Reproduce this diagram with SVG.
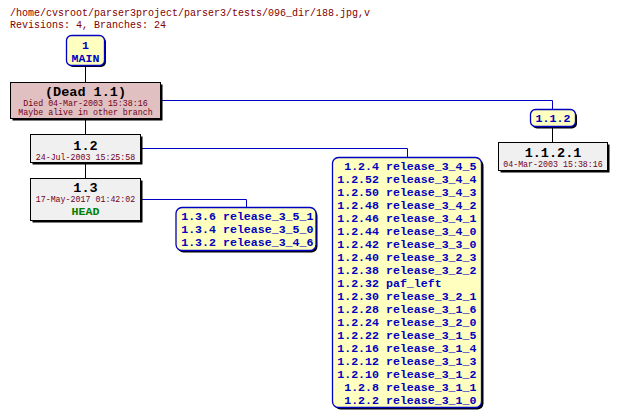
<svg xmlns="http://www.w3.org/2000/svg" width="617" height="419" viewBox="0 0 617 419">
<style>
.hdr{font-family:"Liberation Mono",monospace;font-size:10px;fill:#800000}
.rev{font-family:"Liberation Mono",monospace;font-weight:bold;font-size:13.5px;fill:#000;text-anchor:middle}
.date{font-family:"Liberation Mono",monospace;font-size:8.3px;fill:#700020;text-anchor:middle}
.tag{font-family:"Liberation Mono",monospace;font-weight:bold;font-size:11.6px;fill:#0000c0}
.mid{text-anchor:middle}
.end{text-anchor:end}
.box{fill:#f0f0f0;stroke:#000;stroke-width:1}
.dead{fill:#e0c0c0;stroke:#000;stroke-width:1}
.tbox{fill:#ffffc0;stroke:#0000c0;stroke-width:1.3}
.sh{fill:#000}
.bl{stroke:#0000c0;stroke-width:1;fill:none}
.bk{stroke:#000;stroke-width:1;fill:none}
</style>
<text class="hdr" x="10" y="16">/home/cvsroot/parser3project/parser3/tests/096_dir/188.jpg,v</text>
<text class="hdr" x="10" y="28">Revisions: 4, Branches: 24</text>
<g id="connectors">
<path class="bk" d="M85.5,65 V82.5"/>
<path class="bk" d="M85.5,119 V134.5"/>
<path class="bk" d="M85.5,163 V178.5"/>
<path class="bl" d="M161,100.5 H552.5 V109.5"/>
<path class="bk" d="M552.5,127 V142.5"/>
<path class="bl" d="M141,148.5 H407.5 V157.5"/>
<path class="bl" d="M141,199.5 H246.5 V207.5"/>
</g>
<g id="n_main">
<rect class="sh" x="68" y="37" width="38" height="30" rx="5"/>
<rect class="tbox" x="66.5" y="35.5" width="38" height="30" rx="5"/>
<text class="tag mid" x="85.5" y="49">1</text>
<text class="tag mid" x="85.5" y="62">MAIN</text>
</g>
<g id="n_1_1">
<rect class="sh" x="12.5" y="84.5" width="150" height="36"/>
<rect class="dead" x="10.5" y="82.5" width="150" height="36"/>
<text class="rev" x="85.5" y="96">(Dead 1.1)</text>
<text class="date" x="85.5" y="106">Died 04-Mar-2003 15:38:16</text>
<text class="date" x="85.5" y="114.5">Maybe alive in other branch</text>
</g>
<g id="n_1_2">
<rect class="sh" x="32.5" y="136.5" width="110" height="28"/>
<rect class="box" x="30.5" y="134.5" width="110" height="28"/>
<text class="rev" x="85.5" y="149.5">1.2</text>
<text class="date" x="85.5" y="159.5">24-Jul-2003 15:25:58</text>
</g>
<g id="n_1_3">
<rect class="sh" x="32.5" y="180.5" width="110" height="42"/>
<rect class="box" x="30.5" y="178.5" width="110" height="42"/>
<text class="rev" x="85.5" y="192">1.3</text>
<text class="date" x="85.5" y="202">17-May-2017 01:42:02</text>
<text class="tag mid" x="85.5" y="215" style="fill:#008000">HEAD</text>
</g>
<g id="n_tags_1_3">
<rect class="sh" x="177.5" y="209.5" width="140" height="43" rx="6"/>
<rect class="tbox" x="176" y="207.5" width="140" height="43" rx="6"/>
<text class="tag end" x="216" y="220">1.3.6</text><text class="tag" x="223" y="220">release_3_5_1</text>
<text class="tag end" x="216" y="233">1.3.4</text><text class="tag" x="223" y="233">release_3_5_0</text>
<text class="tag end" x="216" y="246">1.3.2</text><text class="tag" x="223" y="246">release_3_4_6</text>
</g>
<g id="n_tags_1_2">
<rect class="sh" x="334.5" y="159.5" width="149" height="250" rx="6"/>
<rect class="tbox" x="332.5" y="157.5" width="149" height="250" rx="6"/>
<text class="tag end" x="379" y="170">1.2.4</text><text class="tag" x="386" y="170">release_3_4_5</text>
<text class="tag end" x="379" y="183">1.2.52</text><text class="tag" x="386" y="183">release_3_4_4</text>
<text class="tag end" x="379" y="196">1.2.50</text><text class="tag" x="386" y="196">release_3_4_3</text>
<text class="tag end" x="379" y="209">1.2.48</text><text class="tag" x="386" y="209">release_3_4_2</text>
<text class="tag end" x="379" y="222">1.2.46</text><text class="tag" x="386" y="222">release_3_4_1</text>
<text class="tag end" x="379" y="235">1.2.44</text><text class="tag" x="386" y="235">release_3_4_0</text>
<text class="tag end" x="379" y="248">1.2.42</text><text class="tag" x="386" y="248">release_3_3_0</text>
<text class="tag end" x="379" y="261">1.2.40</text><text class="tag" x="386" y="261">release_3_2_3</text>
<text class="tag end" x="379" y="274">1.2.38</text><text class="tag" x="386" y="274">release_3_2_2</text>
<text class="tag end" x="379" y="287">1.2.32</text><text class="tag" x="386" y="287">paf_left</text>
<text class="tag end" x="379" y="300">1.2.30</text><text class="tag" x="386" y="300">release_3_2_1</text>
<text class="tag end" x="379" y="313">1.2.28</text><text class="tag" x="386" y="313">release_3_1_6</text>
<text class="tag end" x="379" y="326">1.2.24</text><text class="tag" x="386" y="326">release_3_2_0</text>
<text class="tag end" x="379" y="339">1.2.22</text><text class="tag" x="386" y="339">release_3_1_5</text>
<text class="tag end" x="379" y="352">1.2.16</text><text class="tag" x="386" y="352">release_3_1_4</text>
<text class="tag end" x="379" y="365">1.2.12</text><text class="tag" x="386" y="365">release_3_1_3</text>
<text class="tag end" x="379" y="378">1.2.10</text><text class="tag" x="386" y="378">release_3_1_2</text>
<text class="tag end" x="379" y="391">1.2.8</text><text class="tag" x="386" y="391">release_3_1_1</text>
<text class="tag end" x="379" y="404">1.2.2</text><text class="tag" x="386" y="404">release_3_1_0</text>
</g>
<g id="n_1_1_2">
<rect class="sh" x="532" y="111.5" width="45" height="17" rx="5"/>
<rect class="tbox" x="530.5" y="109.5" width="45" height="17" rx="5"/>
<text class="tag mid" x="553" y="122">1.1.2</text>
</g>
<g id="n_1_1_2_1">
<rect class="sh" x="500.5" y="144.5" width="109" height="28"/>
<rect class="box" x="498.5" y="142.5" width="109" height="28"/>
<text class="rev" x="553" y="156.5">1.1.2.1</text>
<text class="date" x="553" y="166.5">04-Mar-2003 15:38:16</text>
</g>
</svg>
